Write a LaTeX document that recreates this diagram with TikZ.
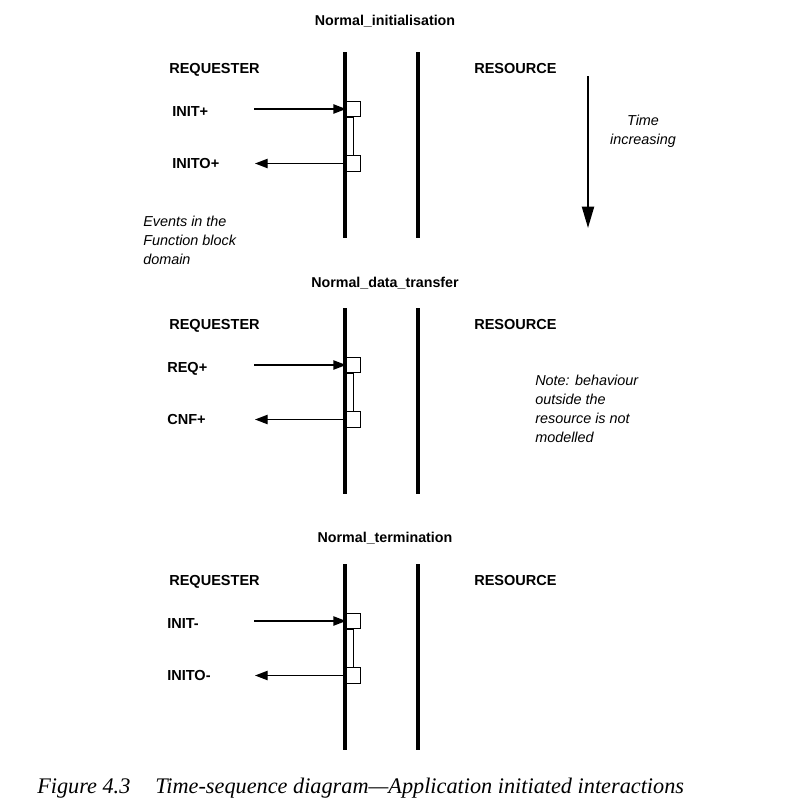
\documentclass[tikz,border=0pt]{standalone}
\usepackage{fontspec}
\setmainfont{Liberation Sans}
\newfontfamily\capfont{Liberation Serif}
\usetikzlibrary{arrows.meta}
\tikzset{
  lifeline/.style={line width=2.3pt},
  msg/.style={line width=1pt,-{Triangle[length=9.5pt,width=7pt]}},
  evbox/.style={draw,line width=0.7pt,fill=white,minimum width=10.5pt,minimum height=11.5pt,inner sep=0pt,anchor=west},
  bar/.style={draw,line width=0.7pt},
  lab/.style={font=\fontsize{10.9}{12}\selectfont\bfseries,anchor=base west,inner sep=0pt},
  ttl/.style={font=\fontsize{10.7}{12}\selectfont\bfseries,anchor=base,inner sep=0pt},
  note/.style={font=\fontsize{10.8}{14.25}\selectfont\itshape,inner sep=0pt,align=left},
  timearrow/.style={line width=1.5pt,-{Triangle[length=16pt,width=9pt]}},
  caption/.style={font=\fontsize{16.7}{18}\selectfont\capfont\itshape,anchor=west,inner sep=0pt}
}
% #1 y offset, #2 prefix, #3 title, #4 title local baseline, #5 label x, #6 first label, #7 second label
\newcommand\seqpanel[7]{%
  \begin{scope}[shift={(0,#1)}]
    \node[ttl] (#2title) at (385,#4) {#3};
    \node[lab] (#2req) at (169,73) {REQUESTER};
    \node[lab] (#2res) at (474,73) {RESOURCE};
    \coordinate (#2lt) at (345,52);
    \coordinate (#2lb) at (345,238);
    \coordinate (#2rt) at (418,52);
    \coordinate (#2rb) at (418,238);
    \draw[lifeline] (#2lt) -- (#2lb);
    \draw[lifeline] (#2rt) -- (#2rb);
    \node[lab] (#2la) at (#5,116.5) {#6};
    \node[lab] (#2lc) at (#5,168.5) {#7};
    \node[evbox] (#2ba) at (346,109) {};
    \node[evbox] (#2bb) at (346,163.5) {};
    \draw[bar] (#2ba.south west) rectangle ([xshift=5.25pt]#2bb.north west);
    \coordinate (#2sa) at (254,109);
    \coordinate (#2ec) at (255,163.5);
    \draw[msg] (#2sa) -- (#2ba.west);
    \draw[msg] (#2bb.west) -- (#2ec);
  \end{scope}}
\begin{document}
\begin{tikzpicture}[x=0.75pt,y=-0.75pt]
  \useasboundingbox (0,0) rectangle (793,803);
  \seqpanel{0}{a}{Normal\_initialisation}{25}{172}{INIT+}{INITO+}
  \seqpanel{256}{b}{Normal\_data\_transfer}{31}{167}{REQ+}{CNF+}
  \seqpanel{512}{c}{Normal\_termination}{30}{167}{INIT-}{INITO-}
  \coordinate (tt) at (588,76);
  \coordinate (tb) at (588,228);
  \draw[timearrow] (tt) -- (tb);
  \node[note,align=center] (time) at (643,131) {Time\\increasing};
  \node[note,anchor=west] (events) at (143,240) {Events in the\\Function block\\domain};
  \node[note,anchor=west] (nt) at (535,409) {Note: behaviour\\outside the\\resource is not\\modelled};
  \node[caption] (capa) at (37,788) {Figure 4.3};
  \node[caption] (capb) at (155,788) {Time-sequence diagram—Application initiated interactions};
\end{tikzpicture}
\end{document}
